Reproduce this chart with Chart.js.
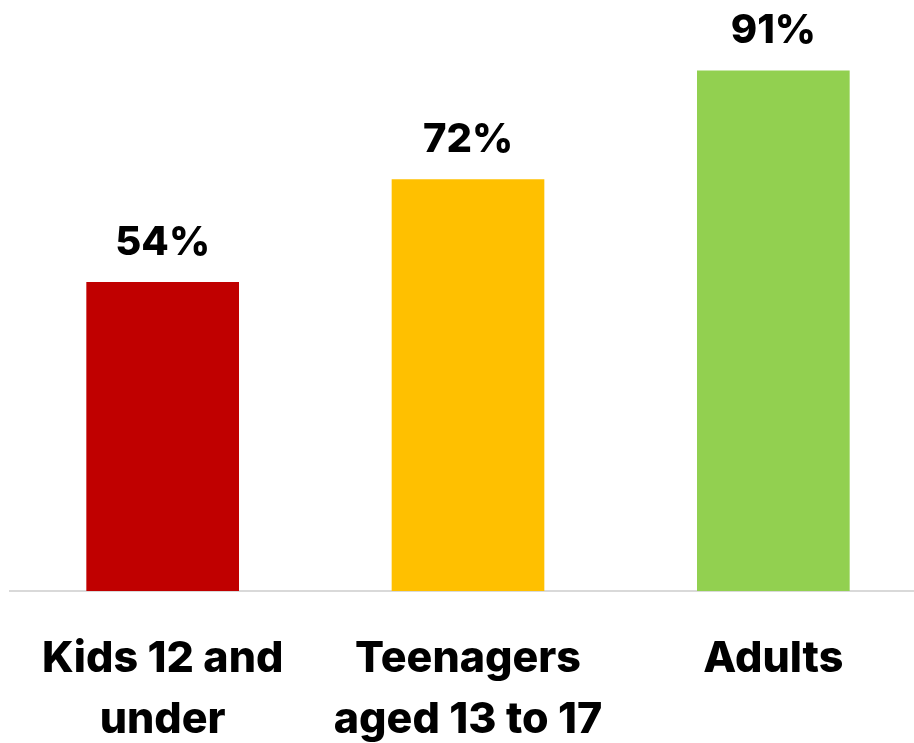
<!DOCTYPE html>
<html>
<head>
<meta charset="utf-8">
<script src="https://cdn.jsdelivr.net/npm/chart.js@4/dist/chart.umd.min.js"></script>
<style>
  html, body { margin: 0; padding: 0; background: #fff; overflow: hidden; }
  #wrap { width: 940px; height: 795px; position: relative; }
</style>
</head>
<body>
<div id="wrap"><canvas id="c" width="940" height="795"></canvas></div>
<script>
// Share of each age group
const categories = [["Kids 12 and", "under"], ["Teenagers", "aged 13 to 17"], ["Adults"]];
const values = [54, 72, 91];
const barColors = ["#C00000", "#FFC000", "#92D050"];

const FONT = "Inter, 'Open Sans', sans-serif";

// Writes the percentage above each bar
const valueLabels = {
  id: "valueLabels",
  afterDatasetsDraw(chart) {
    const ctx = chart.ctx;
    const meta = chart.getDatasetMeta(0);
    ctx.save();
    ctx.font = "800 40px " + FONT;
    ctx.fillStyle = "#000";
    ctx.textAlign = "center";
    ctx.textBaseline = "alphabetic";
    meta.data.forEach((bar, i) => {
      ctx.fillText(values[i] + "%", bar.x, bar.y - 27);
    });
    ctx.restore();
  }
};

new Chart(document.getElementById("c"), {
  type: "bar",
  data: {
    labels: categories,
    datasets: [{
      data: values,
      backgroundColor: barColors,
      borderWidth: 0,
      barPercentage: 0.5,
      categoryPercentage: 1.0
    }]
  },
  options: {
    responsive: false,
    animation: false,
    layout: { padding: { top: 19, left: 10, right: 14, bottom: 6 } },
    plugins: { legend: { display: false }, tooltip: { enabled: false } },
    scales: {
      y: {
        display: false,
        min: 0,
        max: 100
      },
      x: {
        grid: { display: false, drawTicks: false },
        border: { display: true, color: "#d9d9d9", width: 2 },
        ticks: {
          color: "#000",
          padding: 38,
          font: { family: FONT, size: 43, weight: "800", lineHeight: 61 / 43 }
        }
      }
    }
  },
  plugins: [valueLabels]
});
</script>
</body>
</html>
